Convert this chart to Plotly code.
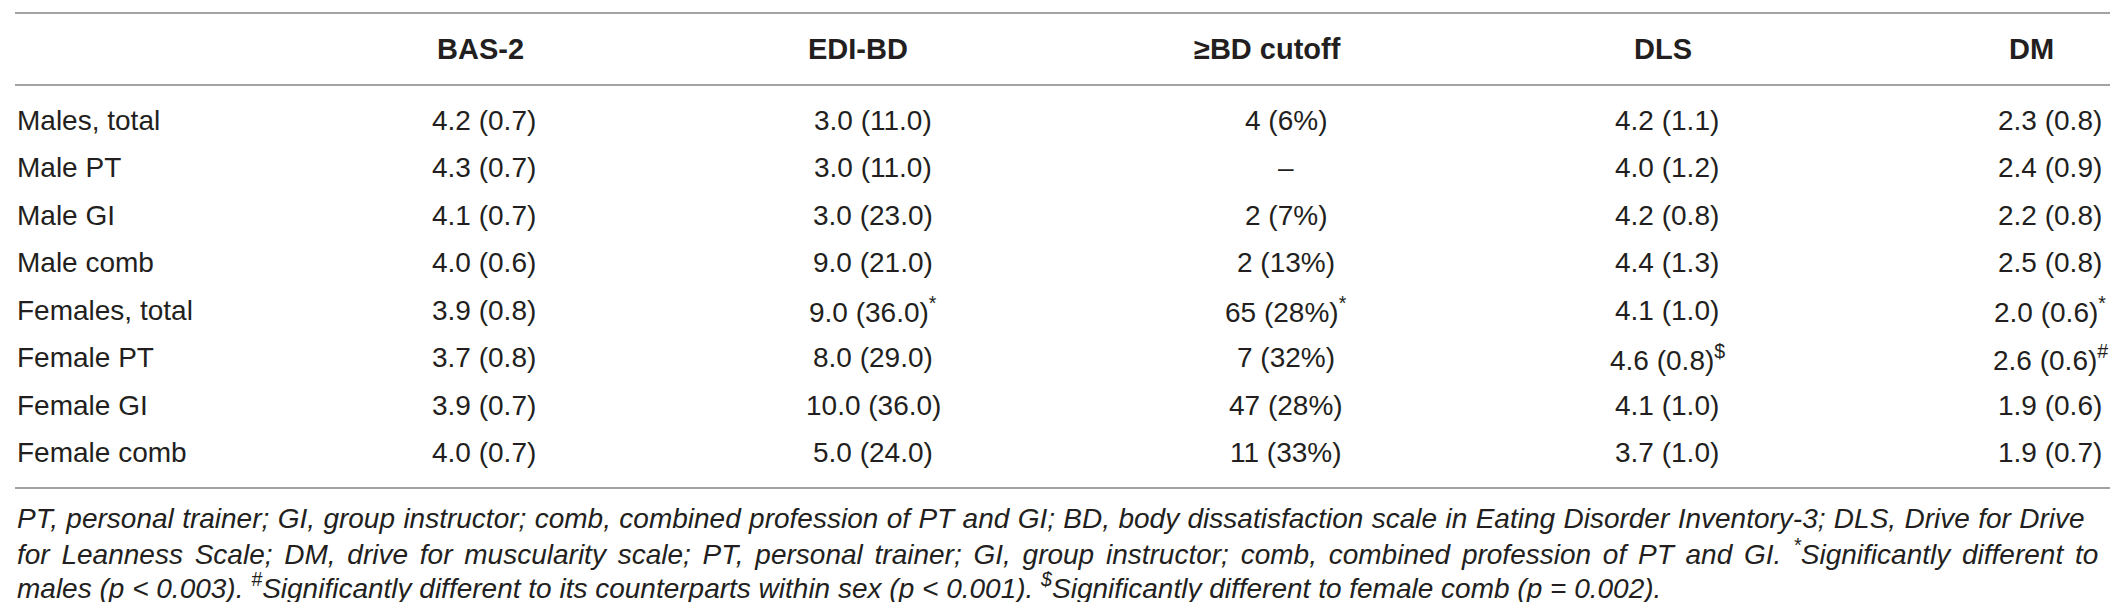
import plotly.graph_objects as go

# table content
row_labels = ["Males, total", "Male PT", "Male GI", "Male comb",
              "Females, total", "Female PT", "Female GI", "Female comb"]
col_headers = ["BAS-2", "EDI-BD", "≥BD cutoff", "DLS", "DM"]

bas2 = ["4.2 (0.7)", "4.3 (0.7)", "4.1 (0.7)", "4.0 (0.6)",
        "3.9 (0.8)", "3.7 (0.8)", "3.9 (0.7)", "4.0 (0.7)"]
edi_bd = ["3.0 (11.0)", "3.0 (11.0)", "3.0 (23.0)", "9.0 (21.0)",
          "9.0 (36.0)<sup>*</sup>", "8.0 (29.0)", "10.0 (36.0)", "5.0 (24.0)"]
bd_cutoff = ["4 (6%)", "–", "2 (7%)", "2 (13%)",
             "65 (28%)<sup>*</sup>", "7 (32%)", "47 (28%)", "11 (33%)"]
dls = ["4.2 (1.1)", "4.0 (1.2)", "4.2 (0.8)", "4.4 (1.3)",
       "4.1 (1.0)", "4.6 (0.8)<sup>$</sup>", "4.1 (1.0)", "3.7 (1.0)"]
dm = ["2.3 (0.8)", "2.4 (0.9)", "2.2 (0.8)", "2.5 (0.8)",
      "2.0 (0.6)<sup>*</sup>", "2.6 (0.6)<sup>#</sup>", "1.9 (0.6)", "1.9 (0.7)"]
columns = [bas2, edi_bd, bd_cutoff, dls, dm]

footnote_lines = [
    "PT, personal trainer; GI, group instructor; comb, combined profession of PT and GI; "
    "BD, body dissatisfaction scale in Eating Disorder Inventory-3; DLS, Drive for Drive",
    "for Leanness Scale; DM, drive for muscularity scale; PT, personal trainer; GI, group "
    "instructor; comb, combined profession of PT and GI. <sup>*</sup>Significantly different to",
    "males (p &lt; 0.003). <sup>#</sup>Significantly different to its counterparts within sex "
    "(p &lt; 0.001). <sup>$</sup>Significantly different to female comb (p = 0.002).",
]

# layout (pixels)
W, H = 2118, 602
left, right = 7, 2112
head_x = [472, 850, 1259, 1655, 2023]
data_x = [476, 865, 1278, 1659, 2042]
head_y = 41
row_y0, row_step = 112, 47.5
rule_y = [5, 77, 480]
foot_y0, foot_step = 510, 34
foot_spacing = [0.6, 4.0, 0]  # rough justification of the first two lines

FONT = "Liberation Sans, Arial, Helvetica, sans-serif"
INK = "#231f20"

fig = go.Figure()

ann = []
for x, h in zip(head_x, col_headers):
    ann.append(dict(x=x, y=head_y, text="<b>%s</b>" % h, xanchor="center",
                    font=dict(size=29, color=INK)))
for i, lab in enumerate(row_labels):
    y = row_y0 + i * row_step
    ann.append(dict(x=left, y=y, text=lab, xanchor="left",
                    font=dict(size=28, color=INK)))
    for x, col in zip(data_x, columns):
        ann.append(dict(x=x, y=y, text=col[i], xanchor="center",
                        font=dict(size=28, color=INK)))
for j, line in enumerate(footnote_lines):
    txt = line
    if foot_spacing[j]:
        txt = '<span style="word-spacing:%.1fpx">%s</span>' % (foot_spacing[j], line)
    ann.append(dict(x=left, y=foot_y0 + j * foot_step, text=txt, xanchor="left",
                    font=dict(size=28, color=INK, style="italic")))

for a in ann:
    a.update(xref="x", yref="y", yanchor="middle", showarrow=False,
             font=dict(family=FONT, **a["font"]))

shapes = [dict(type="line", xref="x", yref="y", x0=left, x1=right, y0=y, y1=y,
               line=dict(color="#a3a3a3", width=2)) for y in rule_y]

fig.update_layout(
    width=W, height=H,
    margin=dict(l=0, r=0, t=0, b=0),
    paper_bgcolor="white", plot_bgcolor="white",
    xaxis=dict(range=[0, W], visible=False, fixedrange=True),
    yaxis=dict(range=[H, 0], visible=False, fixedrange=True),
    annotations=ann, shapes=shapes, showlegend=False,
)

fig.write_html("out.html")
